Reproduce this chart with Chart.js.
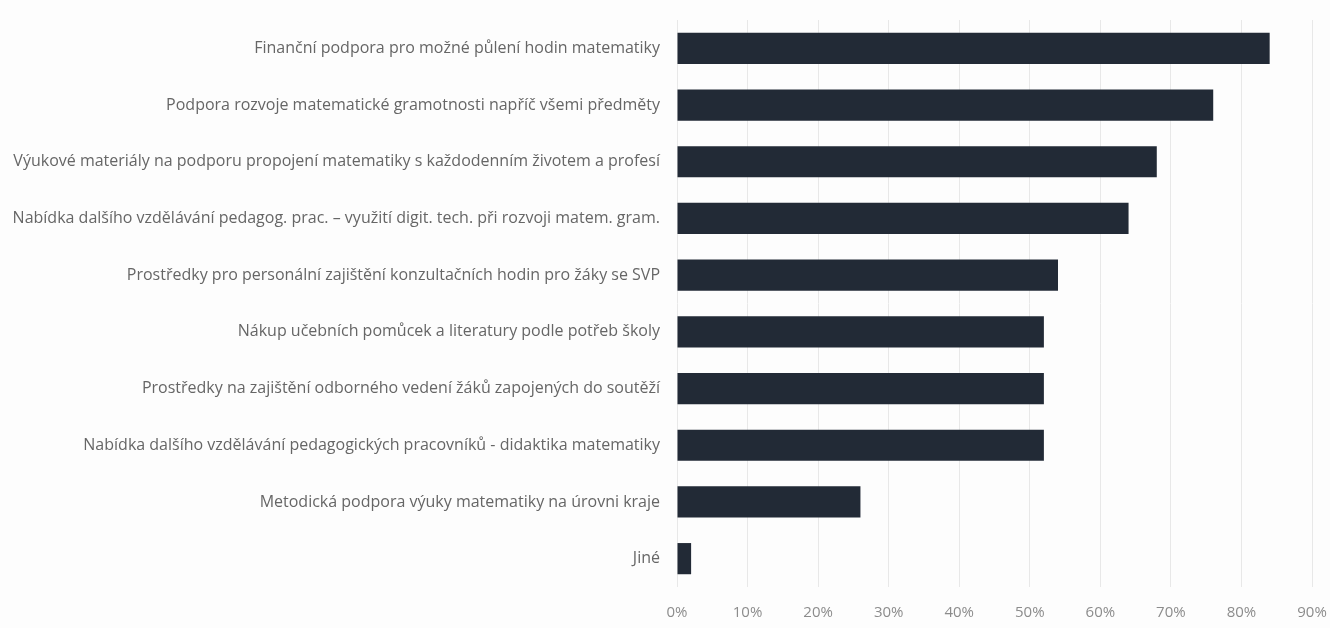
<!DOCTYPE html>
<html>
<head>
<meta charset="utf-8">
<script src="https://cdn.jsdelivr.net/npm/chart.js@4"></script>
<style>
  html, body { margin: 0; padding: 0; background: #fdfdfd; }
  #wrap { width: 1330px; height: 628px; position: relative; }
</style>
</head>
<body>
<div id="wrap"><canvas id="chartPodpora"></canvas></div>
<script>
// kategorie a podíly (v %)
const kategorie = [
  "Finanční podpora pro možné půlení hodin matematiky",
  "Podpora rozvoje matematické gramotnosti napříč všemi předměty",
  "Výukové materiály na podporu propojení matematiky s každodenním životem a profesí",
  "Nabídka dalšího vzdělávání pedagog. prac. – využití digit. tech. při rozvoji matem. gram.",
  "Prostředky pro personální zajištění konzultačních hodin pro žáky se SVP",
  "Nákup učebních pomůcek a literatury podle potřeb školy",
  "Prostředky na zajištění odborného vedení žáků zapojených do soutěží",
  "Nabídka dalšího vzdělávání pedagogických pracovníků - didaktika matematiky",
  "Metodická podpora výuky matematiky na úrovni kraje",
  "Jiné",
];
const podily = [84, 76, 68, 64, 54, 52, 52, 52, 26, 2];
const osaMax = 90;
const osaKrok = 10;

const ctx = document.getElementById("chartPodpora").getContext("2d");
new Chart(ctx, {
  type: "bar",
  data: {
    labels: kategorie,
    datasets: [{ data: podily, backgroundColor: "#222a36", barPercentage: 0.55, categoryPercentage: 1 }],
  },
  options: {
    indexAxis: "y",
    responsive: true,
    maintainAspectRatio: false,
    animation: false,
    layout: { padding: { top: 20, right: 18, left: 0, bottom: 0 } },
    plugins: { legend: { display: false }, tooltip: { enabled: false } },
    scales: {
      x: {
        min: 0,
        max: osaMax,
        ticks: {
          stepSize: osaKrok,
          callback: (v) => v + "%",
          color: "#8c8c8c",
          font: { family: "Open Sans", size: 15 },
          padding: 17,
        },
        grid: { color: "#e8e8e8", drawTicks: false },
        border: { display: false },
        afterFit: (s) => { s.height = 41; s.paddingLeft = 0; s.paddingRight = 0; },
      },
      y: {
        ticks: {
          color: "#666666",
          font: { family: "Open Sans", size: 16 },
          padding: 17,
          autoSkip: false,
        },
        grid: { display: false, drawTicks: false },
        border: { display: false },
        afterFit: (s) => { s.width = 677; s.paddingTop = 0; s.paddingBottom = 0; },
      },
    },
  },
});
</script>
</body>
</html>
